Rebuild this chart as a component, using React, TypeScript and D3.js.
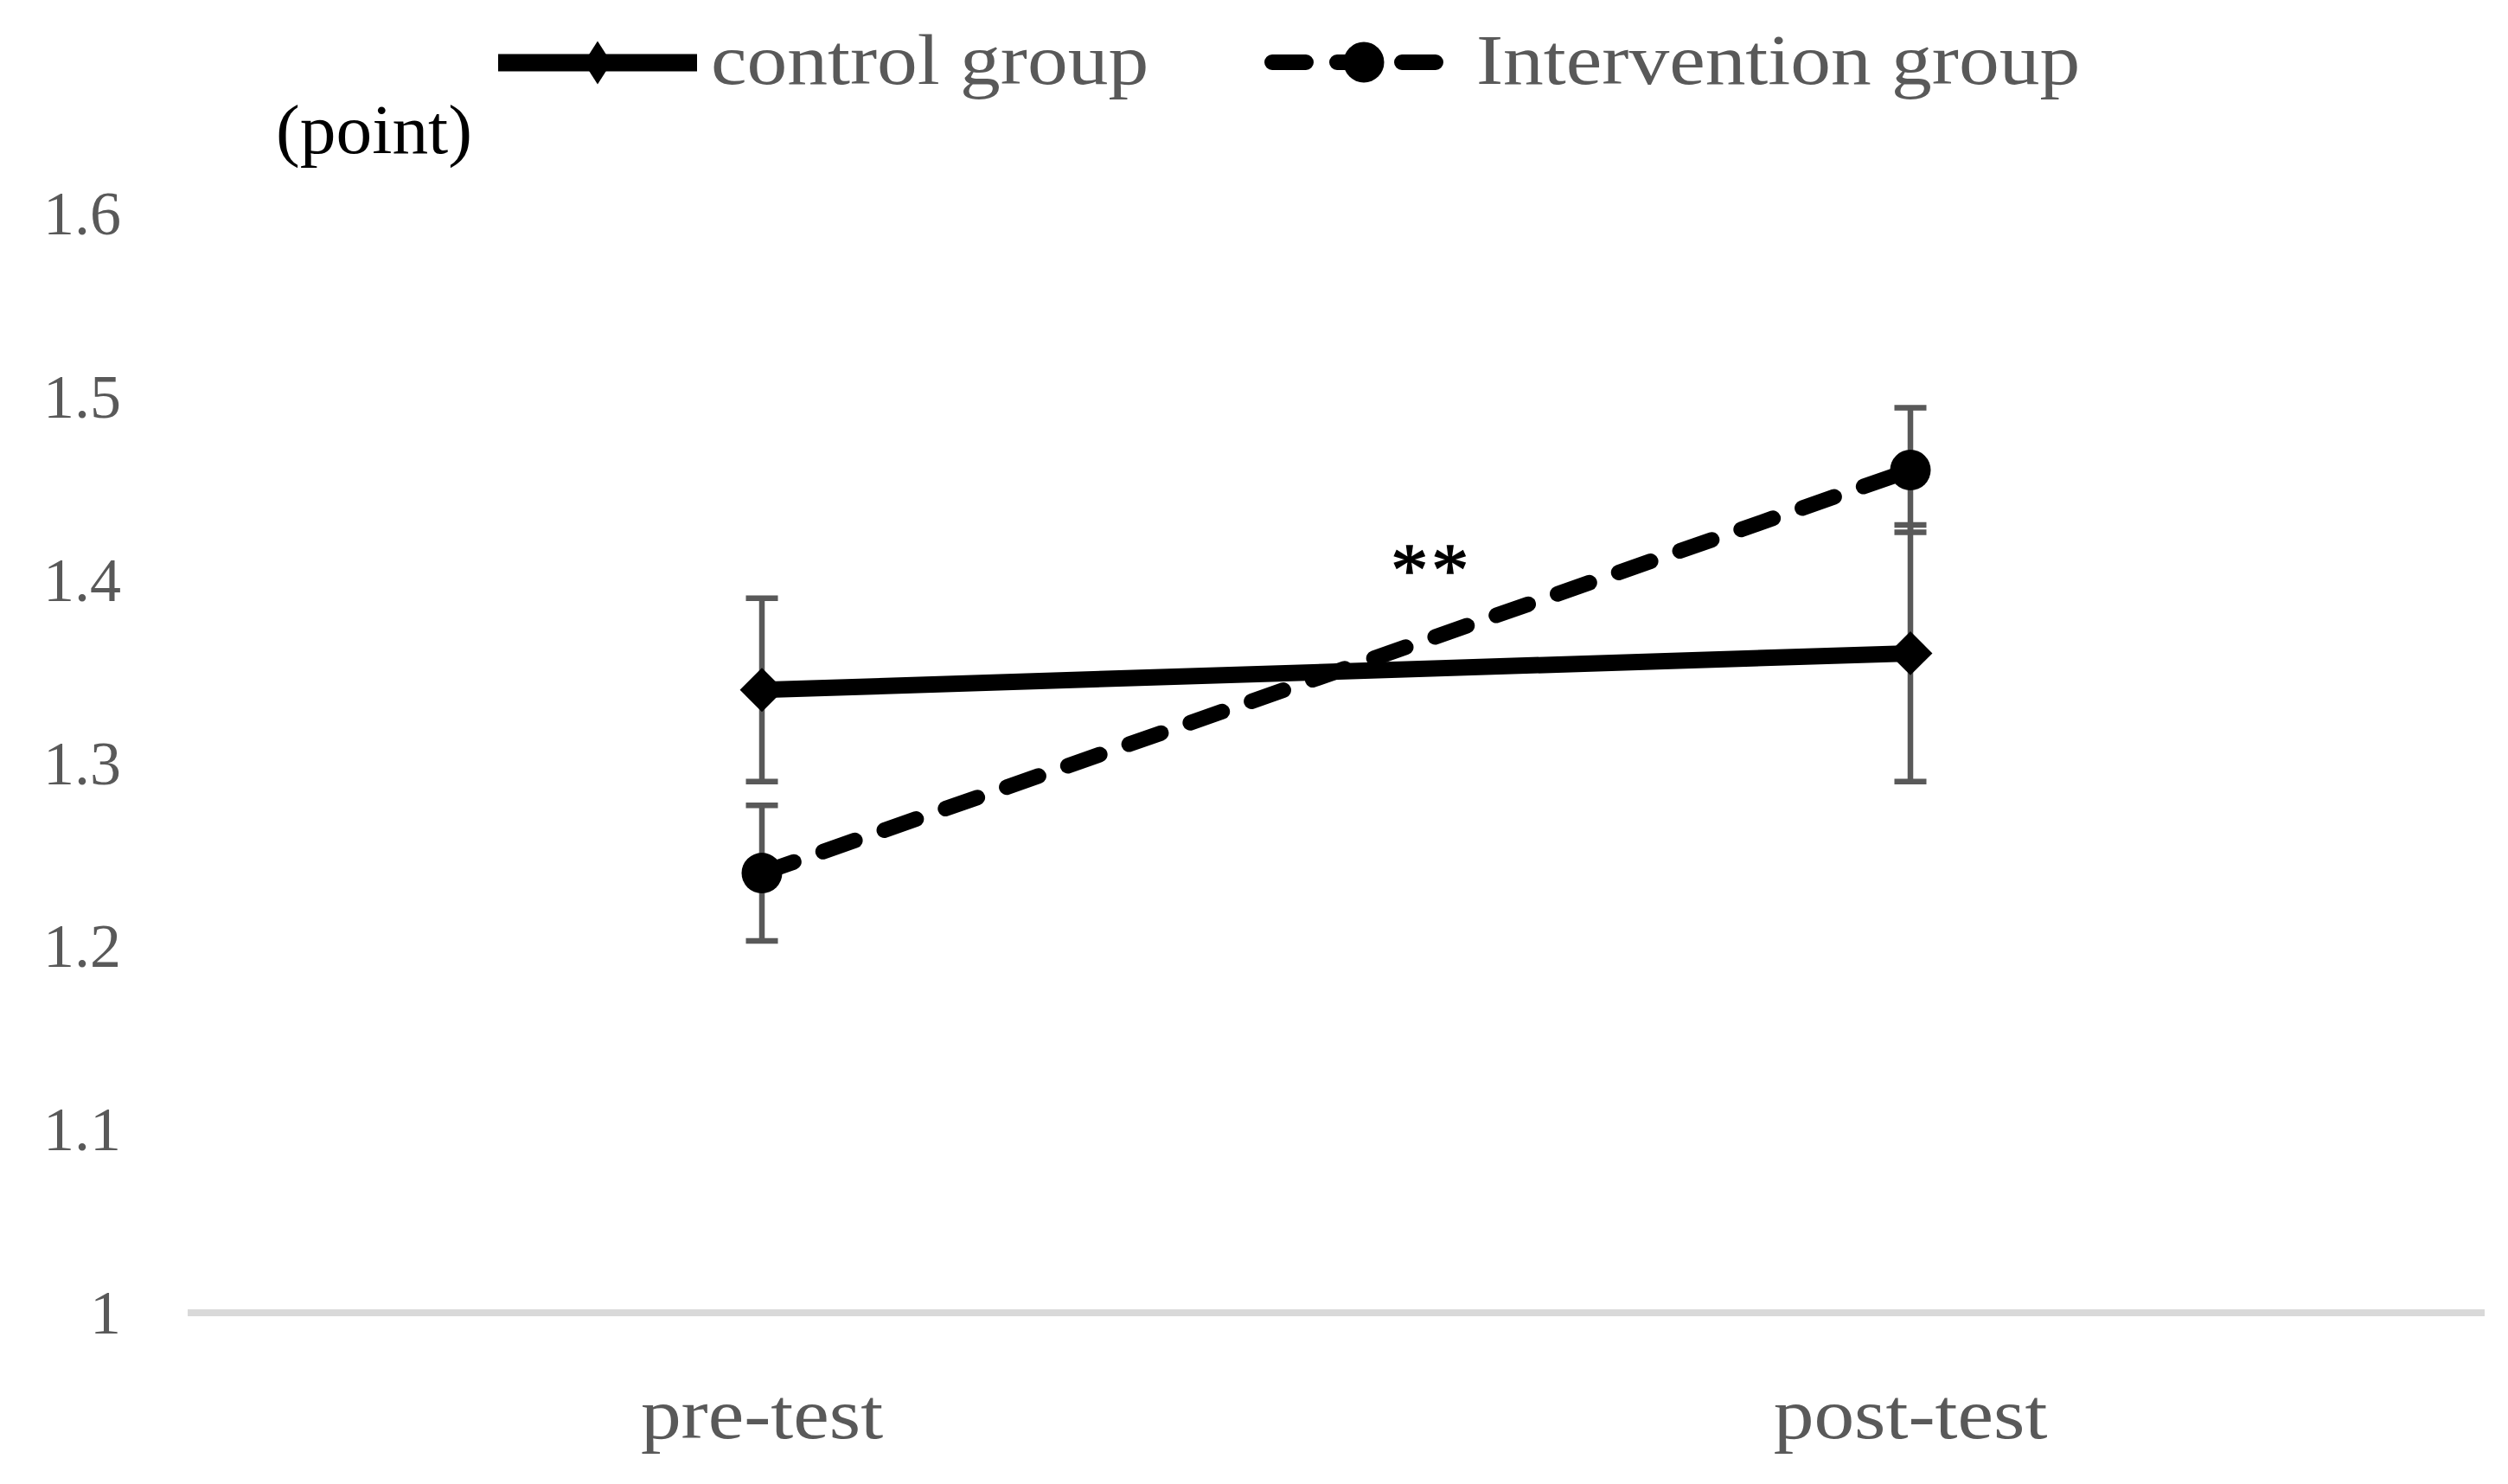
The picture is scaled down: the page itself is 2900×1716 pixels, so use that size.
import { line, scaleBand, scaleLinear, symbol, symbolSquare } from "d3";
import type { ReactElement } from "react";

const categories = ["pre-test", "post-test"];
const seriesNames = ["control group", "Intervention group"];
const controlMeans = [1.34, 1.36];
const controlErrors = [0.05, 0.07];
const interventionMeans = [1.24, 1.46];
const interventionErrors = [0.037, 0.034];
const yTicks = [1, 1.1, 1.2, 1.3, 1.4, 1.5, 1.6];
const yUnit = "(point)";
const significance = { label: "**", at: 0.583, value: 1.392 };

const width = 2900;
const height = 1716;
const FONT = "'Liberation Serif', 'Times New Roman', serif";
const GRAY = "#595959";
const STRETCH = 1.14;

export default function App(): ReactElement {
  const x = scaleBand<string>().domain(categories).range([217, 2873]);
  const cx = (c: string): number => (x(c) ?? 0) + x.bandwidth() / 2;
  const y = scaleLinear().domain([1, 1.6]).range([1518, 247]);

  const lineGen = line<number>()
    .x((_, i) => cx(categories[i]))
    .y((d) => y(d));

  const controlPath = lineGen(controlMeans) ?? "";
  const interventionPath = lineGen(interventionMeans) ?? "";

  // marker for the control series: a square turned 45 degrees
  const squareDiamond = symbol().type(symbolSquare).size(36 * 36)() ?? "";

  const errorBars = (means: number[], errs: number[], key: string) =>
    means.map((m, i) => {
      const px = cx(categories[i]);
      const top = y(m + errs[i]);
      const bot = y(m - errs[i]);
      return (
        <g key={`${key}-${i}`} stroke={GRAY} strokeWidth={6.5}>
          <line x1={px} x2={px} y1={top} y2={bot} />
          <line x1={px - 18.5} x2={px + 18.5} y1={top} y2={top} />
          <line x1={px - 18.5} x2={px + 18.5} y1={bot} y2={bot} />
        </g>
      );
    });

  const annX = cx(categories[0]) + significance.at * (cx(categories[1]) - cx(categories[0]));

  return (
    <svg
      width={width}
      height={height}
      viewBox={`0 0 ${width} ${height}`}
      style={{ position: "absolute", left: 0, top: 0, background: "#ffffff" }}
      fontFamily={FONT}
    >
      <rect x={0} y={0} width={width} height={height} fill="#ffffff" />

      {/* y tick labels */}
      {yTicks.map((t) => (
        <text key={`yt-${t}`} x={140} y={y(t) + 24} textAnchor="end" fontSize={72} fill={GRAY}>
          {String(t)}
        </text>
      ))}

      <text transform="translate(319, 177) scale(1.03, 1)" fontSize={81} fill="#000000">
        {yUnit}
      </text>

      {/* category axis */}
      <line x1={x.range()[0]} x2={x.range()[1]} y1={y(1)} y2={y(1)} stroke="#d9d9d9" strokeWidth={8} />
      {categories.map((c) => (
        <text
          key={`xt-${c}`}
          transform={`translate(${cx(c)}, ${y(1) + 145}) scale(${STRETCH}, 1)`}
          textAnchor="middle"
          fontSize={82}
          fill={GRAY}
        >
          {c}
        </text>
      ))}

      {/* error bars */}
      {errorBars(controlMeans, controlErrors, "ce")}
      {errorBars(interventionMeans, interventionErrors, "ie")}

      {/* control series */}
      <path d={controlPath} fill="none" stroke="#000000" strokeWidth={19} />
      {controlMeans.map((m, i) => (
        <path
          key={`cm-${i}`}
          d={squareDiamond}
          transform={`translate(${cx(categories[i])}, ${y(m)}) rotate(45)`}
          fill="#000000"
        />
      ))}

      {/* intervention series */}
      <path
        d={interventionPath}
        fill="none"
        stroke="#000000"
        strokeWidth={18}
        strokeDasharray="39 36"
        strokeLinecap="round"
      />
      {interventionMeans.map((m, i) => (
        <circle key={`im-${i}`} cx={cx(categories[i])} cy={y(m)} r={23.5} fill="#000000" />
      ))}

      <text
        x={annX}
        y={y(significance.value)}
        textAnchor="middle"
        fontSize={86}
        letterSpacing={4}
        fill="#000000"
        stroke="#000000"
        strokeWidth={1.5}
      >
        {significance.label}
      </text>

      {/* legend */}
      <line x1={576} x2={806} y1={72.5} y2={72.5} stroke="#000000" strokeWidth={20} />
      <path d="M691,47.5 L707,72.5 L691,97.5 L675,72.5 Z" fill="#000000" />
      <text transform={`translate(822, 97) scale(${STRETCH}, 1)`} fontSize={82} fill={GRAY}>
        {seriesNames[0]}
      </text>

      <line
        x1={1471}
        x2={1660}
        y1={72}
        y2={72}
        stroke="#000000"
        strokeWidth={18}
        strokeDasharray="39 36"
        strokeLinecap="round"
      />
      <circle cx={1577} cy={72} r={23.5} fill="#000000" />
      <text transform={`translate(1707, 97) scale(${STRETCH}, 1)`} fontSize={82} fill={GRAY}>
        {seriesNames[1]}
      </text>
    </svg>
  );
}
